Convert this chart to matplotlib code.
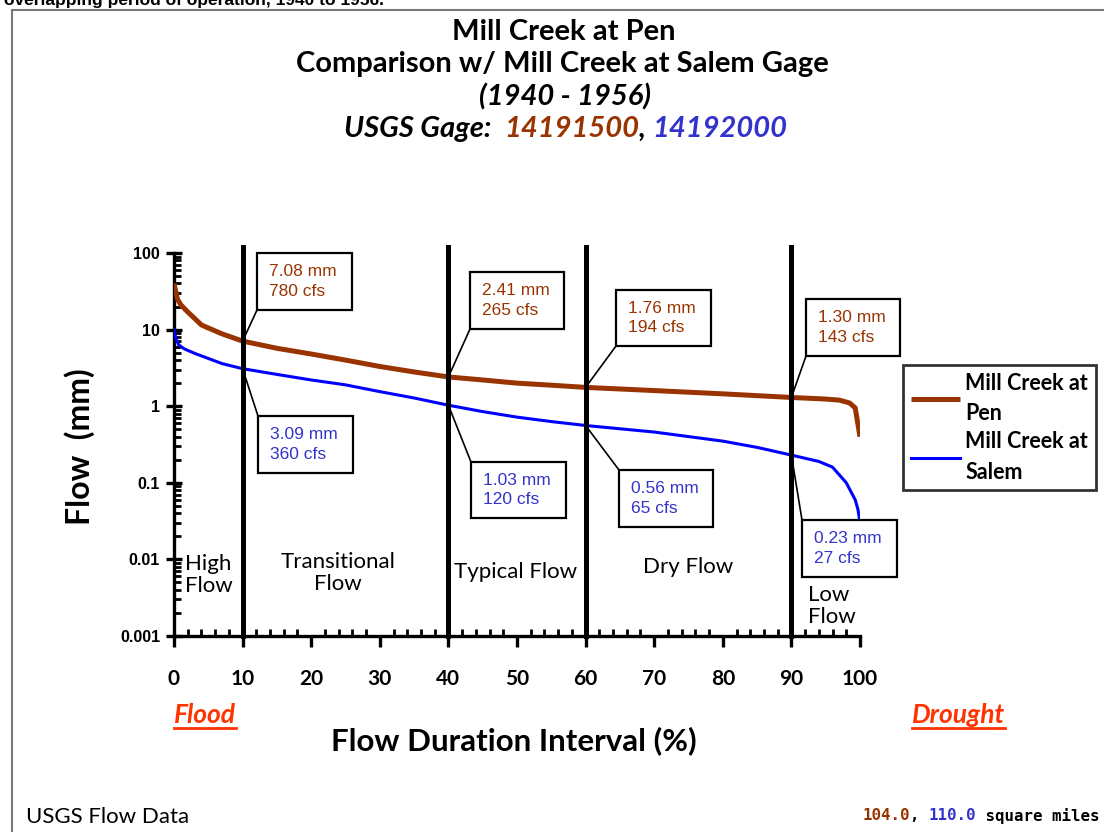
import matplotlib
matplotlib.use("Agg")
import matplotlib.pyplot as plt
from matplotlib.lines import Line2D
from matplotlib.patches import Rectangle
from matplotlib.ticker import FixedLocator, NullFormatter

# ---------------- data ----------------
pen_x = [0, 0.5, 1, 2, 3, 4, 5, 7, 10, 15, 20, 25, 30, 35, 40, 45, 50, 55, 60,
         70, 80, 90, 95, 97, 98.5, 99.3, 100]
pen_y = [40, 25, 21, 17, 14, 11.5, 10.5, 8.8, 7.08, 5.7, 4.8, 4.0, 3.3, 2.8, 2.41,
         2.2, 2.0, 1.88, 1.76, 1.6, 1.45, 1.30, 1.24, 1.2, 1.1, 0.95, 0.4]
salem_x = [0, 0.3, 0.7, 1.5, 3, 5, 7, 10, 15, 20, 25, 30, 35, 40, 45, 50, 55, 60,
           70, 80, 85, 90, 94, 96, 98, 99.3, 99.7, 100]
salem_y = [10, 7.5, 6.3, 5.6, 4.9, 4.2, 3.6, 3.09, 2.6, 2.2, 1.9, 1.55, 1.28, 1.03,
           0.85, 0.72, 0.63, 0.56, 0.46, 0.35, 0.29, 0.23, 0.19, 0.16, 0.10, 0.06, 0.045, 0.03]

divider_x = [10, 40, 60, 90]
pen_labels = ["7.08 mm\n780 cfs", "2.41 mm\n265 cfs", "1.76 mm\n194 cfs", "1.30 mm\n143 cfs"]
pen_points = [7.08, 2.41, 1.76, 1.30]
salem_labels = ["3.09 mm\n360 cfs", "1.03 mm\n120 cfs", "0.56 mm\n65 cfs", "0.23 mm\n27 cfs"]
salem_points = [3.09, 1.03, 0.56, 0.23]

xticks = [0, 10, 20, 30, 40, 50, 60, 70, 80, 90, 100]
yticks = [0.001, 0.01, 0.1, 1, 10, 100]
ytick_labels = ["0.001", "0.01", "0.1", "1", "10", "100"]

region_labels = ["High\nFlow", "Transitional\nFlow", "Typical Flow", "Dry Flow", "Low\nFlow"]

BROWN = "#993300"
BLUE = "#0000FF"
TBLUE = "#3333CC"
RED = "#FF3300"
COMIC = ["Lato", "DejaVu Sans"]
ARIAL = ["Liberation Sans", "DejaVu Sans"]

W, H = 1104, 832
fig = plt.figure(figsize=(W / 100, H / 100), dpi=100)
fig.patch.set_facecolor("white")


def fx(px):
    return px / W


def fy(py):
    return 1 - py / H


ax = fig.add_axes([fx(174), fy(636), fx(860) - fx(174), fy(253) - fy(636)])
ax.set_yscale("log")
ax.set_xlim(0, 100)
ax.set_ylim(0.001, 100)

ax.plot(pen_x, pen_y, color=BROWN, lw=3.6, solid_capstyle="butt", zorder=3,
        label="Mill Creek at\nPen")
ax.plot(salem_x, salem_y, color=BLUE, lw=2.2, zorder=3, label="Mill Creek at\nSalem")

for xv in divider_x:
    ax.plot([xv, xv], [0.001, 120], color="black", lw=3.6, clip_on=False, zorder=4)

for s in ["top", "right"]:
    ax.spines[s].set_visible(False)
for s in ["left", "bottom"]:
    ax.spines[s].set_linewidth(2.4)

# ticks
ax.set_xticks(xticks)
ax.set_xticklabels([str(v) for v in xticks], fontfamily=COMIC, fontweight="bold", fontsize=15)
ax.xaxis.set_minor_locator(FixedLocator([v for v in range(0, 101, 2) if v % 10]))
ax.tick_params(axis="x", which="major", direction="out", length=8, width=2.4, pad=16)
ax.tick_params(axis="x", which="minor", direction="in", length=5, width=2)
ax.set_yticks(yticks)
ax.set_yticklabels(ytick_labels, fontfamily=ARIAL, fontweight="bold", fontsize=11.5)
ax.tick_params(axis="y", which="major", direction="inout", length=12, width=2.4, pad=4)
ax.tick_params(axis="y", which="minor", direction="in", length=5, width=2)
ax.yaxis.set_minor_formatter(NullFormatter())

# annotation boxes (pixel layout)
pen_boxes = [(257, 253, 352, 310), (470, 272, 564, 329), (616, 290, 711, 346), (806, 299, 900, 356)]
salem_boxes = [(258, 416, 353, 473), (471, 462, 566, 518), (619, 470, 713, 527), (802, 520, 897, 577)]


def draw_box(box, label, color, xv, yv, corner):
    x0, y0, x1, y1 = box
    fig.add_artist(Rectangle((fx(x0), fy(y1)), fx(x1) - fx(x0), fy(y0) - fy(y1),
                             transform=fig.transFigure, facecolor="white",
                             edgecolor="black", lw=1.6, zorder=5))
    fig.text(fx(x0 + 12), fy((y0 + y1) / 2), label, color=color, fontfamily=ARIAL,
             fontsize=12.5, va="center", ha="left", linespacing=1.4, zorder=6)
    cy = y1 if corner == "bottom" else y0
    ax.annotate("", xy=(xv, yv), xycoords="data", xytext=(x0, H - cy),
                textcoords="figure pixels",
                arrowprops=dict(arrowstyle="-", color="black", lw=1.2,
                                shrinkA=0, shrinkB=0), zorder=5)


for b, lab, xv, yv in zip(pen_boxes, pen_labels, divider_x, pen_points):
    draw_box(b, lab, BROWN, xv, yv, "bottom")
for b, lab, xv, yv in zip(salem_boxes, salem_labels, divider_x, salem_points):
    draw_box(b, lab, TBLUE, xv, yv, "top")

# region labels
rk = dict(fontfamily=COMIC, fontsize=16, color="black", linespacing=1.15)
fig.text(fx(185), fy(575), region_labels[0], ha="left", va="center", **rk)
fig.text(fx(338), fy(573), region_labels[1], ha="center", va="center", **rk)
fig.text(fx(516), fy(572), region_labels[2], ha="center", va="center", **rk)
fig.text(fx(688), fy(567), region_labels[3], ha="center", va="center", **rk)
fig.text(fx(808), fy(606), region_labels[4], ha="left", va="center", **rk)

# axis labels
fig.text(fx(80), fy(447), "Flow  (mm)", rotation=90, ha="center", va="center",
         fontfamily=COMIC, fontweight="bold", fontsize=23)
fig.text(fx(514), fy(741), "Flow Duration Interval (%)", ha="center", va="center",
         fontfamily=COMIC, fontweight="bold", fontsize=22.5)

renderer = fig.canvas.get_renderer()


def pieces_line(pieces, x_px, y_px, align="center", **kw):
    texts = []
    for s, c in pieces:
        texts.append(fig.text(0, fy(y_px), s, color=c, va="center", ha="left", **kw))
    widths = [t.get_window_extent(renderer).width for t in texts]
    total = sum(widths)
    start = x_px - total / 2 if align == "center" else (x_px - total if align == "right" else x_px)
    for t, w in zip(texts, widths):
        t.set_x(fx(start))
        start += w
    return texts


def underlined(text, x_px, y_px, color, **kw):
    t = fig.text(fx(x_px), fy(y_px), text, color=color, ha="left", va="center", **kw)
    bb = t.get_window_extent(renderer)
    yline = bb.y0 - 1
    fig.add_artist(Line2D([bb.x0 / W, bb.x1 / W], [yline / H, yline / H],
                          color=color, lw=2, transform=fig.transFigure))


underlined("Flood", 174, 715, RED, fontfamily=COMIC, fontweight="bold",
           fontstyle="italic", fontsize=19)
underlined("Drought", 912, 715, RED, fontfamily=COMIC, fontweight="bold",
           fontstyle="italic", fontsize=19)

# titles
tk = dict(fontfamily=COMIC, fontweight="bold", fontsize=21)
fig.text(fx(564), fy(32), "Mill Creek at Pen", ha="center", va="center", **tk)
fig.text(fx(562), fy(64), "Comparison w/ Mill Creek at Salem Gage", ha="center", va="center", **tk)
fig.text(fx(565), fy(97), "(1940 - 1956)", ha="center", va="center", fontstyle="italic", **tk)
pieces_line([("USGS Gage:  ", "black"), ("14191500", BROWN), (", ", "black"),
             ("14192000", TBLUE)], 566, 129, fontstyle="italic", **tk)

# footer texts
fig.text(fx(26), fy(817), "USGS Flow Data", ha="left", va="center",
         fontfamily=COMIC, fontsize=16)
pieces_line([("104.0", BROWN), (", ", "black"), ("110.0", TBLUE), (" square miles", "black")],
            1100, 816, align="right", fontfamily=["DejaVu Sans Mono"], fontweight="bold",
            fontsize=11.3)

# top clipped caption
fig.text(fx(4), fy(5), "overlapping period of operation, 1940 to 1956.", ha="left",
         va="baseline", fontfamily=ARIAL, fontweight="bold", fontsize=12.5)

# screenshot frame
fig.add_artist(Line2D([fx(12), 1], [fy(10), fy(10)], color="#777777", lw=1.5,
                      transform=fig.transFigure))
fig.add_artist(Line2D([fx(12), fx(12)], [fy(10), 0], color="#777777", lw=1.5,
                      transform=fig.transFigure))

# legend
leg = fig.legend(loc="upper left", bbox_to_anchor=(fx(903), fy(365)), borderaxespad=0,
                 frameon=True, fancybox=False, edgecolor="black", handlelength=2.3,
                 prop=dict(family=COMIC, weight="bold", size=15.5), labelspacing=0.35,
                 borderpad=0.35, handletextpad=0.25)
leg.get_frame().set_linewidth(2)
for t in leg.get_texts():
    t.set_linespacing(1.55)

fig.savefig("out.png", dpi=100, facecolor="white")
